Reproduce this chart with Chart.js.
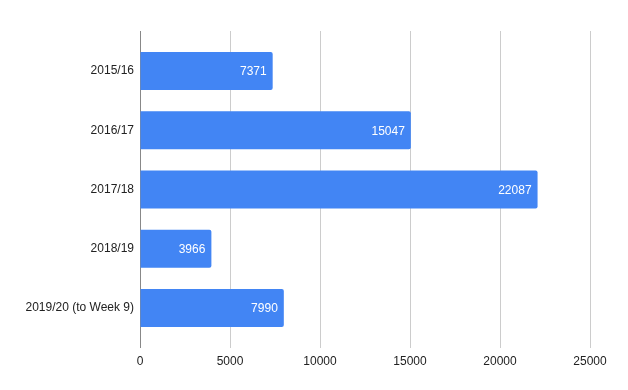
<!DOCTYPE html>
<html>
<head>
<meta charset="utf-8">
<script src="https://cdn.jsdelivr.net/npm/chart.js@4/dist/chart.umd.min.js"></script>
<style>
  html, body { margin: 0; padding: 0; background: #fff; }
  #wrap { width: 628px; height: 390px; }
</style>
</head>
<body>
<div id="wrap"><canvas id="chartSeasons"></canvas></div>
<script>
const seasons = ['2015/16', '2016/17', '2017/18', '2018/19', '2019/20 (to Week 9)'];
const totals = [7371, 15047, 22087, 3966, 7990];
const xTicks = [0, 5000, 10000, 15000, 20000, 25000];

// values drawn inside the bar ends
const barValueLabels = {
    id: 'barValueLabels',
    afterDatasetsDraw(chart) {
        const ctx = chart.ctx;
        const meta = chart.getDatasetMeta(0);
        ctx.save();
        ctx.font = '12px Arial, "Liberation Sans", sans-serif';
        ctx.fillStyle = '#ffffff';
        ctx.textAlign = 'right';
        ctx.textBaseline = 'middle';
        meta.data.forEach((bar, i) => {
            ctx.fillText(String(totals[i]), bar.x - 6, bar.y + 1);
        });
        ctx.restore();
    }
};

new Chart(document.getElementById('chartSeasons').getContext('2d'), {
    type: 'bar',
    data: {
        datasets: [{
            data: totals.map((v, i) => ({ x: v, y: i })),
            backgroundColor: '#4285f4',
            borderRadius: { topRight: 2, bottomRight: 2 },
            borderSkipped: 'start',
            categoryPercentage: 1,
            barPercentage: 0.64
        }]
    },
    options: {
        indexAxis: 'y',
        responsive: true,
        maintainAspectRatio: false,
        animation: false,
        layout: { padding: { top: 31, right: 38, bottom: 0, left: 0 } },
        plugins: {
            legend: { display: false },
            tooltip: { enabled: false }
        },
        scales: {
            x: {
                type: 'linear',
                min: 0,
                max: 25000,
                afterBuildTicks: scale => { scale.ticks = xTicks.map(v => ({ value: v })); },
                afterFit: scale => { scale.height = 42; },
                border: { display: false },
                grid: {
                    drawTicks: false,
                    color: c => c.tick && c.tick.value === 0 ? '#888888' : '#cccccc'
                },
                ticks: {
                    padding: 6,
                    color: '#222222',
                    font: { family: 'Arial, "Liberation Sans", sans-serif', size: 12 },
                    callback: value => String(value)
                }
            },
            y: {
                type: 'linear',
                reverse: true,
                offset: false,
                min: -0.675,
                max: seasons.length - 1 + 0.675,
                afterBuildTicks: scale => { scale.ticks = seasons.map((s, i) => ({ value: i })); },
                afterFit: scale => { scale.width = 140; },
                border: { display: false },
                grid: { display: false, drawTicks: false, offset: false },
                ticks: {
                    padding: 6,
                    color: '#222222',
                    font: { family: 'Arial, "Liberation Sans", sans-serif', size: 12 },
                    callback: value => seasons[value]
                }
            }
        }
    },
    plugins: [barValueLabels]
});
</script>
</body>
</html>
